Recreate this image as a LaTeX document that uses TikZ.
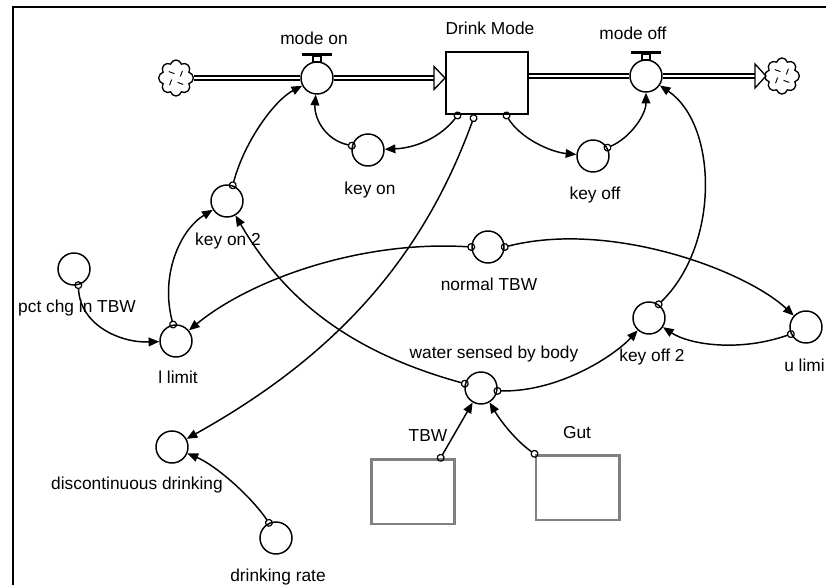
\documentclass[tikz,border=0pt]{standalone}
\usepackage{fontspec}
\setmainfont{Liberation Sans}
\usetikzlibrary{arrows.meta, shapes.symbols}

\begin{document}
\begin{tikzpicture}[x = 0.75pt, y = -0.75pt,
	font = \fontsize{13}{15}\selectfont,
	aux/.style = {circle, draw, fill = white, line width = 1.1pt, minimum size = 24pt, inner sep = 0pt},
	lvl/.style = {rectangle, draw, line width = 2.2pt, minimum width = 61.5pt, minimum height = 46.5pt},
	ghost/.style = {rectangle, draw = black!50, line width = 2pt, minimum width = 62.5pt, minimum height = 48.5pt},
	cloudy/.style = {cloud, cloud puffs = 8, aspect = 1, draw, fill = white, line width = 1pt, minimum width = 26pt, minimum height = 27pt, inner sep = 0pt},
	lab/.style = {inner sep = 0pt, text height = 9.5pt, text depth = 2.5pt},
	pipe/.style = {double, double distance = 2pt, line width = 1.2pt},
	link/.style = {line width = 1.1pt, {Circle[open, length = 6pt, line width = 0.9pt]}-{Triangle[length = 8pt, width = 6.5pt]}, shorten <= -3pt},
	tip/.style = {fill = white, line width = 1pt}]
\useasboundingbox (0, 0) rectangle (826, 585);
\clip (0, 0) rectangle (826, 585);
\draw[line width = 2.2pt] (13, 585) -- (13, 7) -- (826, 7);

\node[cloudy] (srcl) at (176, 78) {};
\node[cloudy] (snkr) at (782, 76) {};
\node[aux] (modeon) at (317, 78) {};
\node[lab] (modeonl) at (314, 40) {mode on};
\node[lvl] (dm) at (487, 83) {};
\node[lab] (dml) at (490, 30) {Drink Mode};
\node[aux] (modeoff) at (646, 76) {};
\node[lab] (modeoffl) at (633, 35) {mode off};
\coordinate (inflow) at (434, 78);
\coordinate (outflow) at (755, 76);

\draw[pipe] (srcl) -- (modeon);
\draw[pipe] (modeon) -- (inflow);
\draw[tip] (434, 66.5) -- (445, 78) -- (434, 89.5) -- cycle;
\draw[pipe] (dm.east |- modeoff) -- (modeoff);
\draw[pipe] (modeoff) -- (outflow);
\draw[tip] (755, 64) -- (766, 76) -- (755, 88) -- cycle;
\foreach \v in {modeon, modeoff} {
	\draw[line width = 2pt] ([xshift = -11.5pt, yshift = 17.5pt]\v.center) -- ++(23pt, 0pt);
	\draw[line width = 0.8pt] ([xshift = -3pt, yshift = 12pt]\v.center) rectangle ++(6pt, 4.5pt);
}
\foreach \c in {srcl, snkr}
	\foreach \a in {20, 110, 200, 290}
		\draw[line width = 0.7pt] (\c.center) ++(\a:3.5pt) -- ++(\a + 50:4.5pt);

\node[aux] (keyon) at (368, 150) {};
\node[lab] (keyonl) at (370, 190) {key on};
\node[aux] (keyoff) at (593, 156) {};
\node[lab] (keyoffl) at (595, 195) {key off};
\node[aux] (keyontwo) at (227, 201) {};
\node[lab] (keyontwol) at (228, 241) {key on 2};
\node[aux] (pct) at (74, 269) {};
\node[lab] (pctl) at (77, 308) {pct chg in TBW};
\node[aux] (llimit) at (176, 341) {};
\node[lab] (llimitl) at (178, 379) {l limit};
\node[aux] (normal) at (488, 247) {};
\node[lab] (normall) at (489, 286) {normal TBW};
\node[aux] (keyofftwo) at (649, 318) {};
\node[lab] (keyofftwol) at (652, 357) {key off 2};
\node[aux] (ulimit) at (806, 327) {};
\node[lab, anchor = east] (ulimitl) at (825, 367) {u limi};
\node[aux] (water) at (481, 388) {};
\node[lab] (waterl) at (494, 354) {water sensed by body};
\node[aux] (disc) at (172, 447) {};
\node[lab] (discl) at (137, 485) {discontinuous drinking};
\node[aux] (drate) at (276, 538) {};
\node[lab] (dratel) at (278, 577) {drinking rate};
\node[ghost] (tbw) at (413, 491.5) {};
\node[lab] (tbwl) at (428, 437) {TBW};
\node[ghost] (gut) at (577.5, 487.5) {};
\node[lab] (gutl) at (577, 434) {Gut};

\draw[link] ([xshift = 9.75pt]dm.south west) .. controls (440, 138) and (415, 148) .. (keyon);
\draw[link] (keyon.165) .. controls (325, 140) and (314, 118) .. (modeon);
\draw[link] (keyontwo.70) .. controls (245, 140) and (275, 100) .. (modeon);
\draw[link] (llimit.100) .. controls (160, 275) and (180, 230) .. (keyontwo);
\draw[link] (pct.-75) .. controls (80, 325) and (120, 343) .. (llimit);
\draw[link] (normal.west) .. controls (360, 240) and (250, 280) .. (llimit);
\draw[link] (normal.east) .. controls (610, 220) and (745, 270) .. (ulimit);
\draw[link] (ulimit.205) .. controls (740, 352) and (690, 345) .. (keyofftwo);
\draw[link] (water.165) .. controls (350, 352) and (285, 300) .. (keyontwo);
\draw[link] (water.-10) .. controls (560, 392) and (615, 355) .. (keyofftwo);
\draw[link] (keyofftwo.55) .. controls (720, 245) and (718, 125) .. (modeoff);
\draw[link] ([xshift = 46.5pt]dm.south west) .. controls (520, 138) and (550, 152) .. (keyoff);
\draw[link] (keyoff.30) .. controls (630, 138) and (646, 115) .. (modeoff);
\draw[link] ([xshift = 21.75pt, yshift = -2pt]dm.south west) .. controls (420, 266) and (328, 360) .. (disc);
\draw[link] (drate.115) .. controls (250, 495) and (215, 465) .. (disc);
\draw[link] ([xshift = 53pt]tbw.north west) -- (water);
\draw[link] (gut.north west) .. controls (515, 440) and (500, 420) .. (water);
\end{tikzpicture}
\end{document}
